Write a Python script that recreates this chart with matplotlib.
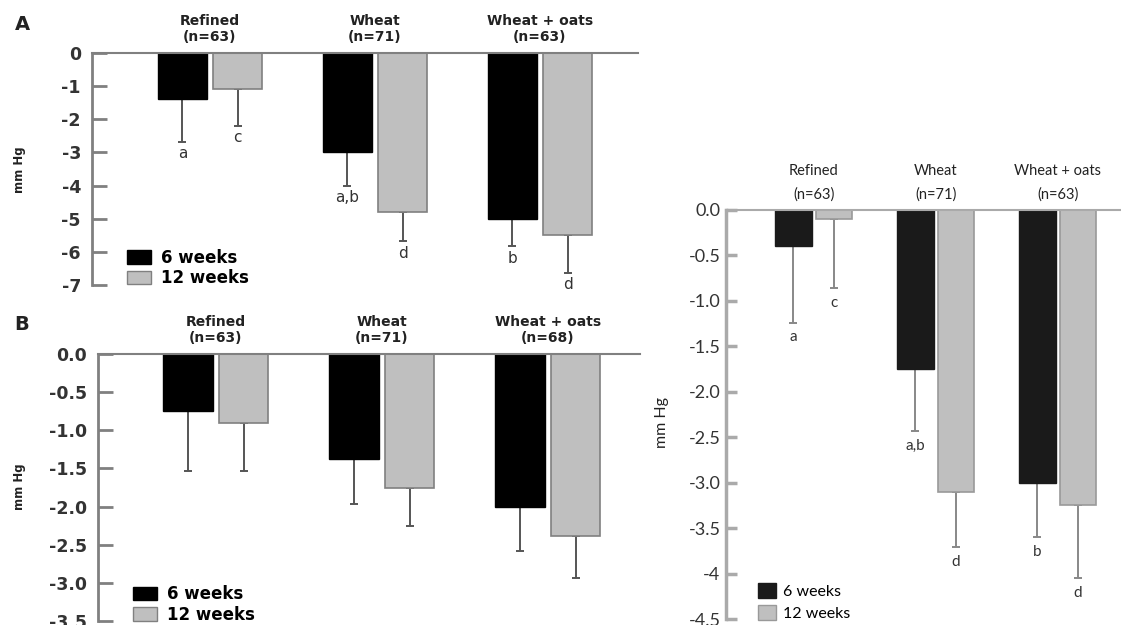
import numpy as np
import matplotlib
matplotlib.use('Agg')
import matplotlib.pyplot as plt
from matplotlib.patches import Patch

# ---- data ----
groups_A = ['Refined\n(n=63)', 'Wheat\n(n=71)', 'Wheat + oats\n(n=63)']
A_6w = [-1.4, -3.0, -5.0]
A_6w_err = [1.28, 1.0, 0.83]
A_12w = [-1.1, -4.8, -5.5]
A_12w_err = [1.1, 0.88, 1.13]
A_6w_letters = ['a', 'a,b', 'b']
A_12w_letters = ['c', 'd', 'd']
A_ticks = [0, -1, -2, -3, -4, -5, -6, -7]
A_ticklabels = ['0', '-1', '-2', '-3', '-4', '-5', '-6', '-7']

groups_B = ['Refined\n(n=63)', 'Wheat\n(n=71)', 'Wheat + oats\n(n=68)']
B_6w = [-0.75, -1.38, -2.0]
B_6w_err = [0.78, 0.58, 0.58]
B_12w = [-0.9, -1.75, -2.38]
B_12w_err = [0.64, 0.5, 0.55]
B_ticks = [0.0, -0.5, -1.0, -1.5, -2.0, -2.5, -3.0, -3.5]
B_ticklabels = ['0.0', '-0.5', '-1.0', '-1.5', '-2.0', '-2.5', '-3.0', '-3.5']

groups_C = ['Refined\n(n=63)', 'Wheat\n(n=71)', 'Wheat + oats\n(n=63)']
C_6w = [-0.4, -1.75, -3.0]
C_6w_err = [0.84, 0.68, 0.6]
C_12w = [-0.1, -3.1, -3.25]
C_12w_err = [0.76, 0.61, 0.8]
C_6w_letters = ['a', 'a,b', 'b']
C_12w_letters = ['c', 'd', 'd']
C_ticks = [0.0, -0.5, -1.0, -1.5, -2.0, -2.5, -3.0, -3.5, -4.0, -4.5]
C_ticklabels = ['0.0', '-0.5', '-1.0', '-1.5', '-2.0', '-2.5', '-3.0', '-3.5', '-4', '-4.5']

series = ['6 weeks', '12 weeks']

W, H = 1121, 625
fig = plt.figure(figsize=(W / 100, H / 100), dpi=100)


def px_axes(left, top, right, bottom):
    return fig.add_axes([left / W, 1 - bottom / H, (right - left) / W, (bottom - top) / H])


def panel(ax, groups, v6, e6, v12, e12, ticks, ticklabels, ylim, xlim, st,
          l6=None, l12=None):
    x = np.arange(len(groups))
    off, bw = 0.167, 0.30
    ax.bar(x - off, v6, bw, color=st['dark'], edgecolor=st['dark'], linewidth=1, zorder=2)
    ax.bar(x + off, v12, bw, color='#bfbfbf', edgecolor=st['edge'], linewidth=1.2, zorder=2)
    for xs, v, e in [(x - off, v6, e6), (x + off, v12, e12)]:
        ax.errorbar(xs, v, yerr=[e, np.zeros(len(e))], fmt='none', ecolor=st['err'],
                    elinewidth=1.4, capsize=3, capthick=1.4, zorder=1)
    # significance letters
    for xs, v, e, lab in [(x - off, v6, e6, l6), (x + off, v12, e12, l12)]:
        if lab is None:
            continue
        for xi, vi, ei, t in zip(xs, v, e, lab):
            ax.annotate(t, (xi, vi - ei), xytext=(0, -st['lgap']), textcoords='offset points',
                        ha='center', va='center', fontsize=st['lfs'], color='#333333',
                        family=st['font'])
    # group titles above the zero line
    for xi, g in zip(x, groups):
        name, n = g.split('\n')
        ax.annotate(name, (xi, 0), xytext=(0, st['t1']), textcoords='offset points',
                    ha='center', va='center', fontsize=st['tfs'], fontweight=st['tw'],
                    color='#222222', family=st['font'])
        ax.annotate(n, (xi, 0), xytext=(0, st['t2']), textcoords='offset points',
                    ha='center', va='center', fontsize=st['tfs'], fontweight=st['tw'],
                    color='#222222', family=st['font'])
    ax.set_xlim(*xlim)
    ax.set_ylim(*ylim)
    ax.set_xticks([])
    ax.set_yticks(ticks)
    ax.set_yticklabels(ticklabels, fontsize=st['kfs'], fontweight=st['tw'], color='#333333',
                       family=st['font'])
    ax.tick_params(axis='y', direction='in', length=st['tl'], width=st['sw'],
                   color=st['spine'], pad=st['pad'])
    ax.spines['right'].set_visible(False)
    ax.spines['bottom'].set_visible(False)
    ax.spines['left'].set_color(st['spine'])
    ax.spines['left'].set_linewidth(st['sw'])
    ax.spines['top'].set_color(st['spine'])
    ax.spines['top'].set_linewidth(1.5)
    ax.patch.set_alpha(0)
    handles = [Patch(facecolor=st['dark'], edgecolor=st['dark']),
               Patch(facecolor='#bfbfbf', edgecolor=st['edge'])]
    ax.legend(handles, series, loc='lower left', bbox_to_anchor=st['lloc'], frameon=False,
              prop={'family': st['font'], 'size': st['gfs'], 'weight': st['tw']},
              handlelength=st['hl'], handleheight=st['hh'], handletextpad=st['htp'],
              labelspacing=st['ls'], borderpad=0, borderaxespad=0)


st_AB = dict(dark='black', edge='#808080', err='#555555', font='DejaVu Sans', tw='bold',
             lfs=11, lgap=8.5, tfs=10, t1=23, t2=11.5, kfs=12.5, tl=11, sw=2,
             spine='#808080', pad=8, gfs=12, hl=1.4, hh=0.85, htp=0.6, ls=0.15,
             lloc=(0.065, -0.01))
st_C = dict(dark='#1a1a1a', edge='#999999', err='#888888', font='Lato', tw='normal',
            lfs=11, lgap=10.5, tfs=10.5, t1=28, t2=11, kfs=13, tl=8, sw=2.5,
            spine='#aaaaaa', pad=4, gfs=11.5, hl=1.15, hh=1.05, htp=0.45, ls=0.4,
            lloc=(0.08, -0.005))

axA = px_axes(92, 53, 638, 285)
panel(axA, groups_A, A_6w, A_6w_err, A_12w, A_12w_err, A_ticks, A_ticklabels,
      (-7, 0), (-0.715, 2.594), st_AB, A_6w_letters, A_12w_letters)

axB = px_axes(98, 354, 640, 621)
panel(axB, groups_B, B_6w, B_6w_err, B_12w, B_12w_err, B_ticks, B_ticklabels,
      (-3.5, 0), (-0.71, 2.555), st_AB)

axC = px_axes(726, 210, 1121, 619)
panel(axC, groups_C, C_6w, C_6w_err, C_12w, C_12w_err, C_ticks, C_ticklabels,
      (-4.5, 0), (-0.72, 2.52), st_C, C_6w_letters, C_12w_letters)

# y labels and panel letters
fig.text(20 / W, 1 - 170 / H, 'mm Hg', rotation=90, ha='center', va='center',
         fontsize=8.5, fontweight='bold', color='#222222')
fig.text(20 / W, 1 - 487 / H, 'mm Hg', rotation=90, ha='center', va='center',
         fontsize=8.5, fontweight='bold', color='#222222')
fig.text(662 / W, 1 - 423 / H, 'mm Hg', rotation=90, ha='center', va='center',
         fontsize=11.5, family='Lato', color='#222222')
fig.text(22 / W, 1 - 25 / H, 'A', ha='center', va='center', fontsize=14,
         fontweight='bold', color='#222222')
fig.text(22 / W, 1 - 325 / H, 'B', ha='center', va='center', fontsize=14,
         fontweight='bold', color='#222222')

fig.savefig('out.png', dpi=100)
